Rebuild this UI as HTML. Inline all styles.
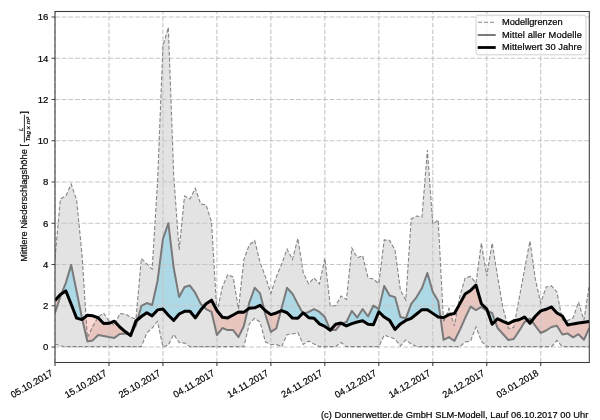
<!DOCTYPE html>
<html><head><meta charset="utf-8"><style>
html,body{margin:0;padding:0;background:#fff;width:600px;height:420px;overflow:hidden}
svg{display:block;font-family:"Liberation Sans", sans-serif;will-change:transform}
text{stroke:#000;stroke-width:0.2px}
</style></head><body>
<svg width="600" height="420" viewBox="0 0 600 420">
<defs>
<clipPath id="plot"><rect x="55.00" y="11.50" width="534.30" height="351.00"/></clipPath>
<clipPath id="above"><polygon points="55.00,300.59 60.40,294.41 65.79,290.90 71.19,304.31 76.59,318.12 81.98,319.57 87.38,315.24 92.78,315.86 98.18,317.71 103.57,323.49 108.97,323.28 114.37,321.22 119.76,326.99 125.16,331.53 130.56,335.66 135.95,321.01 141.35,316.48 146.75,312.76 152.15,315.86 157.54,309.88 162.94,309.05 168.34,315.24 173.73,320.39 179.13,314.00 184.53,311.32 189.93,311.32 195.32,317.92 200.72,310.08 206.12,303.69 211.51,300.18 216.91,310.49 222.31,317.30 227.70,317.92 233.10,315.03 238.50,311.94 243.90,312.14 249.29,308.23 254.69,307.81 260.09,305.34 265.48,310.70 270.88,314.62 276.28,312.97 281.67,310.70 287.07,312.76 292.47,318.12 297.87,318.33 303.26,312.76 308.66,317.71 314.06,318.33 319.45,323.90 324.85,326.38 330.25,330.29 335.64,324.31 341.04,323.07 346.44,325.96 351.84,323.69 357.23,322.04 362.63,320.81 368.03,324.31 373.42,324.73 378.82,311.73 384.22,317.09 389.61,320.39 395.01,329.47 400.41,323.90 405.81,320.39 411.20,318.33 416.60,314.00 422.00,309.67 427.39,309.67 432.79,313.38 438.19,317.09 443.58,317.51 448.98,314.62 454.38,313.59 459.78,303.89 465.17,293.99 470.57,290.49 475.97,285.12 481.36,303.69 486.76,309.05 492.16,324.31 497.55,318.74 502.95,321.43 508.35,323.69 513.75,320.81 519.14,319.77 524.54,317.09 529.94,323.28 535.33,316.27 540.73,310.91 546.13,309.26 551.52,306.99 556.92,312.97 562.32,316.06 567.72,324.93 573.11,323.90 578.51,323.07 583.91,322.25 589.30,321.43 589.30,0 55.00,0"/></clipPath>
<clipPath id="below"><polygon points="55.00,300.59 60.40,294.41 65.79,290.90 71.19,304.31 76.59,318.12 81.98,319.57 87.38,315.24 92.78,315.86 98.18,317.71 103.57,323.49 108.97,323.28 114.37,321.22 119.76,326.99 125.16,331.53 130.56,335.66 135.95,321.01 141.35,316.48 146.75,312.76 152.15,315.86 157.54,309.88 162.94,309.05 168.34,315.24 173.73,320.39 179.13,314.00 184.53,311.32 189.93,311.32 195.32,317.92 200.72,310.08 206.12,303.69 211.51,300.18 216.91,310.49 222.31,317.30 227.70,317.92 233.10,315.03 238.50,311.94 243.90,312.14 249.29,308.23 254.69,307.81 260.09,305.34 265.48,310.70 270.88,314.62 276.28,312.97 281.67,310.70 287.07,312.76 292.47,318.12 297.87,318.33 303.26,312.76 308.66,317.71 314.06,318.33 319.45,323.90 324.85,326.38 330.25,330.29 335.64,324.31 341.04,323.07 346.44,325.96 351.84,323.69 357.23,322.04 362.63,320.81 368.03,324.31 373.42,324.73 378.82,311.73 384.22,317.09 389.61,320.39 395.01,329.47 400.41,323.90 405.81,320.39 411.20,318.33 416.60,314.00 422.00,309.67 427.39,309.67 432.79,313.38 438.19,317.09 443.58,317.51 448.98,314.62 454.38,313.59 459.78,303.89 465.17,293.99 470.57,290.49 475.97,285.12 481.36,303.69 486.76,309.05 492.16,324.31 497.55,318.74 502.95,321.43 508.35,323.69 513.75,320.81 519.14,319.77 524.54,317.09 529.94,323.28 535.33,316.27 540.73,310.91 546.13,309.26 551.52,306.99 556.92,312.97 562.32,316.06 567.72,324.93 573.11,323.90 578.51,323.07 583.91,322.25 589.30,321.43 589.30,420 55.00,420"/></clipPath>
</defs>
<polygon points="55.00,258.31 60.40,198.91 65.79,196.03 71.19,184.06 76.59,199.94 81.98,254.19 87.38,337.72 92.78,326.38 98.18,317.09 103.57,312.97 108.97,321.01 114.37,325.34 119.76,313.59 125.16,314.00 130.56,317.09 135.95,319.16 141.35,258.52 146.75,263.88 152.15,269.04 157.54,182.00 162.94,45.88 168.34,27.31 173.73,175.81 179.13,250.06 184.53,196.03 189.93,198.91 195.32,188.39 200.72,204.07 206.12,204.89 211.51,222.01 216.91,312.97 222.31,287.19 227.70,274.81 233.10,276.88 238.50,308.84 243.90,259.34 249.29,244.91 254.69,240.57 260.09,262.44 265.48,276.88 270.88,293.38 276.28,276.88 281.67,264.09 287.07,249.03 292.47,259.55 297.87,238.31 303.26,272.75 308.66,283.89 314.06,277.91 319.45,283.89 324.85,258.31 330.25,305.75 335.64,305.75 341.04,296.06 346.44,299.56 351.84,248.00 357.23,257.90 362.63,255.63 368.03,277.91 373.42,278.94 378.82,283.89 384.22,239.96 389.61,240.37 395.01,250.06 400.41,290.07 405.81,299.98 411.20,218.92 416.60,216.03 422.00,217.06 427.39,150.03 432.79,224.07 438.19,219.95 443.58,322.25 448.98,308.43 454.38,325.96 459.78,296.47 465.17,277.91 470.57,276.46 475.97,283.06 481.36,243.05 486.76,276.05 492.16,243.05 497.55,276.26 502.95,307.81 508.35,328.44 513.75,327.41 519.14,298.32 524.54,269.66 529.94,240.99 535.33,278.94 540.73,303.07 546.13,286.98 551.52,285.95 556.92,291.93 562.32,319.98 567.72,320.60 573.11,317.92 578.51,302.04 583.91,319.98 589.30,285.95 589.30,346.59 583.91,346.59 578.51,346.59 573.11,346.59 567.72,346.59 562.32,346.59 556.92,340.40 551.52,346.59 546.13,346.59 540.73,346.59 535.33,346.59 529.94,346.59 524.54,346.59 519.14,346.59 513.75,346.59 508.35,346.59 502.95,346.59 497.55,346.59 492.16,346.59 486.76,346.59 481.36,341.02 475.97,326.99 470.57,341.02 465.17,342.05 459.78,346.59 454.38,346.59 448.98,346.59 443.58,346.59 438.19,346.59 432.79,346.59 427.39,346.59 422.00,346.59 416.60,346.59 411.20,343.91 405.81,339.99 400.41,345.97 395.01,338.96 389.61,337.10 384.22,335.04 378.82,346.59 373.42,346.59 368.03,346.59 362.63,346.59 357.23,346.59 351.84,346.59 346.44,346.59 341.04,342.46 335.64,346.59 330.25,346.59 324.85,346.59 319.45,346.59 314.06,343.91 308.66,341.02 303.26,344.52 297.87,332.56 292.47,334.01 287.07,334.42 281.67,346.59 276.28,344.52 270.88,344.52 265.48,342.05 260.09,322.04 254.69,318.33 249.29,323.90 243.90,346.59 238.50,346.59 233.10,346.59 227.70,346.59 222.31,346.59 216.91,346.59 211.51,346.59 206.12,346.59 200.72,346.59 195.32,346.59 189.93,346.59 184.53,343.08 179.13,342.46 173.73,334.42 168.34,344.94 162.94,347.00 157.54,321.43 152.15,328.02 146.75,332.98 141.35,346.59 135.95,346.59 130.56,346.59 125.16,346.59 119.76,346.59 114.37,346.59 108.97,346.59 103.57,346.59 98.18,346.59 92.78,346.59 87.38,346.59 81.98,346.59 76.59,346.59 71.19,346.59 65.79,346.59 60.40,345.97 55.00,343.91" fill="#e3e3e3"/>
<g clip-path="url(#plot)">
<polygon points="55.00,312.97 60.40,296.47 65.79,283.06 71.19,264.91 76.59,291.31 81.98,317.92 87.38,341.43 92.78,340.40 98.18,335.04 103.57,336.07 108.97,337.10 114.37,337.93 119.76,334.01 125.16,333.59 130.56,334.62 135.95,325.34 141.35,305.96 146.75,303.07 152.15,304.93 157.54,281.00 162.94,238.93 168.34,223.25 173.73,268.01 179.13,297.09 184.53,286.98 189.93,285.54 195.32,292.96 200.72,303.89 206.12,309.05 211.51,311.94 216.91,335.04 222.31,328.02 227.70,330.09 233.10,330.09 238.50,337.10 243.90,325.96 249.29,302.66 254.69,287.81 260.09,293.38 265.48,315.03 270.88,331.94 276.28,328.44 281.67,307.81 287.07,287.81 292.47,293.79 297.87,304.10 303.26,314.00 308.66,311.94 314.06,309.05 319.45,311.94 324.85,317.09 330.25,330.09 335.64,330.09 341.04,323.90 346.44,322.04 351.84,310.91 357.23,317.51 362.63,309.05 368.03,316.48 373.42,305.54 378.82,309.05 384.22,285.95 389.61,295.44 395.01,297.09 400.41,317.09 405.81,318.33 411.20,303.89 416.60,297.09 422.00,288.01 427.39,272.96 432.79,291.93 438.19,301.01 443.58,339.78 448.98,337.10 454.38,341.02 459.78,330.09 465.17,317.92 470.57,306.57 475.97,310.08 481.36,306.99 486.76,310.91 492.16,312.97 497.55,328.02 502.95,334.01 508.35,339.99 513.75,338.96 519.14,330.91 524.54,322.04 529.94,318.54 535.33,325.96 540.73,332.98 546.13,330.50 551.52,326.99 556.92,325.76 562.32,334.42 567.72,333.59 573.11,337.31 578.51,334.21 583.91,339.78 589.30,328.02 589.30,321.43 583.91,322.25 578.51,323.07 573.11,323.90 567.72,324.93 562.32,316.06 556.92,312.97 551.52,306.99 546.13,309.26 540.73,310.91 535.33,316.27 529.94,323.28 524.54,317.09 519.14,319.77 513.75,320.81 508.35,323.69 502.95,321.43 497.55,318.74 492.16,324.31 486.76,309.05 481.36,303.69 475.97,285.12 470.57,290.49 465.17,293.99 459.78,303.89 454.38,313.59 448.98,314.62 443.58,317.51 438.19,317.09 432.79,313.38 427.39,309.67 422.00,309.67 416.60,314.00 411.20,318.33 405.81,320.39 400.41,323.90 395.01,329.47 389.61,320.39 384.22,317.09 378.82,311.73 373.42,324.73 368.03,324.31 362.63,320.81 357.23,322.04 351.84,323.69 346.44,325.96 341.04,323.07 335.64,324.31 330.25,330.29 324.85,326.38 319.45,323.90 314.06,318.33 308.66,317.71 303.26,312.76 297.87,318.33 292.47,318.12 287.07,312.76 281.67,310.70 276.28,312.97 270.88,314.62 265.48,310.70 260.09,305.34 254.69,307.81 249.29,308.23 243.90,312.14 238.50,311.94 233.10,315.03 227.70,317.92 222.31,317.30 216.91,310.49 211.51,300.18 206.12,303.69 200.72,310.08 195.32,317.92 189.93,311.32 184.53,311.32 179.13,314.00 173.73,320.39 168.34,315.24 162.94,309.05 157.54,309.88 152.15,315.86 146.75,312.76 141.35,316.48 135.95,321.01 130.56,335.66 125.16,331.53 119.76,326.99 114.37,321.22 108.97,323.28 103.57,323.49 98.18,317.71 92.78,315.86 87.38,315.24 81.98,319.57 76.59,318.12 71.19,304.31 65.79,290.90 60.40,294.41 55.00,300.59" fill="#add8e6" clip-path="url(#above)" fill-rule="evenodd"/>
<polygon points="55.00,312.97 60.40,296.47 65.79,283.06 71.19,264.91 76.59,291.31 81.98,317.92 87.38,341.43 92.78,340.40 98.18,335.04 103.57,336.07 108.97,337.10 114.37,337.93 119.76,334.01 125.16,333.59 130.56,334.62 135.95,325.34 141.35,305.96 146.75,303.07 152.15,304.93 157.54,281.00 162.94,238.93 168.34,223.25 173.73,268.01 179.13,297.09 184.53,286.98 189.93,285.54 195.32,292.96 200.72,303.89 206.12,309.05 211.51,311.94 216.91,335.04 222.31,328.02 227.70,330.09 233.10,330.09 238.50,337.10 243.90,325.96 249.29,302.66 254.69,287.81 260.09,293.38 265.48,315.03 270.88,331.94 276.28,328.44 281.67,307.81 287.07,287.81 292.47,293.79 297.87,304.10 303.26,314.00 308.66,311.94 314.06,309.05 319.45,311.94 324.85,317.09 330.25,330.09 335.64,330.09 341.04,323.90 346.44,322.04 351.84,310.91 357.23,317.51 362.63,309.05 368.03,316.48 373.42,305.54 378.82,309.05 384.22,285.95 389.61,295.44 395.01,297.09 400.41,317.09 405.81,318.33 411.20,303.89 416.60,297.09 422.00,288.01 427.39,272.96 432.79,291.93 438.19,301.01 443.58,339.78 448.98,337.10 454.38,341.02 459.78,330.09 465.17,317.92 470.57,306.57 475.97,310.08 481.36,306.99 486.76,310.91 492.16,312.97 497.55,328.02 502.95,334.01 508.35,339.99 513.75,338.96 519.14,330.91 524.54,322.04 529.94,318.54 535.33,325.96 540.73,332.98 546.13,330.50 551.52,326.99 556.92,325.76 562.32,334.42 567.72,333.59 573.11,337.31 578.51,334.21 583.91,339.78 589.30,328.02 589.30,321.43 583.91,322.25 578.51,323.07 573.11,323.90 567.72,324.93 562.32,316.06 556.92,312.97 551.52,306.99 546.13,309.26 540.73,310.91 535.33,316.27 529.94,323.28 524.54,317.09 519.14,319.77 513.75,320.81 508.35,323.69 502.95,321.43 497.55,318.74 492.16,324.31 486.76,309.05 481.36,303.69 475.97,285.12 470.57,290.49 465.17,293.99 459.78,303.89 454.38,313.59 448.98,314.62 443.58,317.51 438.19,317.09 432.79,313.38 427.39,309.67 422.00,309.67 416.60,314.00 411.20,318.33 405.81,320.39 400.41,323.90 395.01,329.47 389.61,320.39 384.22,317.09 378.82,311.73 373.42,324.73 368.03,324.31 362.63,320.81 357.23,322.04 351.84,323.69 346.44,325.96 341.04,323.07 335.64,324.31 330.25,330.29 324.85,326.38 319.45,323.90 314.06,318.33 308.66,317.71 303.26,312.76 297.87,318.33 292.47,318.12 287.07,312.76 281.67,310.70 276.28,312.97 270.88,314.62 265.48,310.70 260.09,305.34 254.69,307.81 249.29,308.23 243.90,312.14 238.50,311.94 233.10,315.03 227.70,317.92 222.31,317.30 216.91,310.49 211.51,300.18 206.12,303.69 200.72,310.08 195.32,317.92 189.93,311.32 184.53,311.32 179.13,314.00 173.73,320.39 168.34,315.24 162.94,309.05 157.54,309.88 152.15,315.86 146.75,312.76 141.35,316.48 135.95,321.01 130.56,335.66 125.16,331.53 119.76,326.99 114.37,321.22 108.97,323.28 103.57,323.49 98.18,317.71 92.78,315.86 87.38,315.24 81.98,319.57 76.59,318.12 71.19,304.31 65.79,290.90 60.40,294.41 55.00,300.59" fill="#fa8072" fill-opacity="0.3" clip-path="url(#below)" fill-rule="evenodd"/>
</g>
<path d="M55.00 347.00H589.30 M55.00 305.75H589.30 M55.00 264.50H589.30 M55.00 223.25H589.30 M55.00 182.00H589.30 M55.00 140.75H589.30 M55.00 99.50H589.30 M55.00 58.25H589.30 M55.00 17.00H589.30" stroke="#c6c6c6" stroke-width="1.1" stroke-dasharray="4.8 1.9" fill="none"/>
<path d="M55.00 362.50V11.50 M108.97 362.50V11.50 M162.94 362.50V11.50 M216.91 362.50V11.50 M270.88 362.50V11.50 M324.85 362.50V11.50 M378.82 362.50V11.50 M432.79 362.50V11.50 M486.76 362.50V11.50 M540.73 362.50V11.50" stroke="#c6c6c6" stroke-width="1.1" stroke-dasharray="4.8 1.9" fill="none"/>
<g clip-path="url(#plot)">
<polyline points="55.00,258.31 60.40,198.91 65.79,196.03 71.19,184.06 76.59,199.94 81.98,254.19 87.38,337.72 92.78,326.38 98.18,317.09 103.57,312.97 108.97,321.01 114.37,325.34 119.76,313.59 125.16,314.00 130.56,317.09 135.95,319.16 141.35,258.52 146.75,263.88 152.15,269.04 157.54,182.00 162.94,45.88 168.34,27.31 173.73,175.81 179.13,250.06 184.53,196.03 189.93,198.91 195.32,188.39 200.72,204.07 206.12,204.89 211.51,222.01 216.91,312.97 222.31,287.19 227.70,274.81 233.10,276.88 238.50,308.84 243.90,259.34 249.29,244.91 254.69,240.57 260.09,262.44 265.48,276.88 270.88,293.38 276.28,276.88 281.67,264.09 287.07,249.03 292.47,259.55 297.87,238.31 303.26,272.75 308.66,283.89 314.06,277.91 319.45,283.89 324.85,258.31 330.25,305.75 335.64,305.75 341.04,296.06 346.44,299.56 351.84,248.00 357.23,257.90 362.63,255.63 368.03,277.91 373.42,278.94 378.82,283.89 384.22,239.96 389.61,240.37 395.01,250.06 400.41,290.07 405.81,299.98 411.20,218.92 416.60,216.03 422.00,217.06 427.39,150.03 432.79,224.07 438.19,219.95 443.58,322.25 448.98,308.43 454.38,325.96 459.78,296.47 465.17,277.91 470.57,276.46 475.97,283.06 481.36,243.05 486.76,276.05 492.16,243.05 497.55,276.26 502.95,307.81 508.35,328.44 513.75,327.41 519.14,298.32 524.54,269.66 529.94,240.99 535.33,278.94 540.73,303.07 546.13,286.98 551.52,285.95 556.92,291.93 562.32,319.98 567.72,320.60 573.11,317.92 578.51,302.04 583.91,319.98 589.30,285.95" fill="none" stroke="#858585" stroke-width="1.1" stroke-dasharray="4 2"/>
<polyline points="55.00,343.91 60.40,345.97 65.79,346.59 71.19,346.59 76.59,346.59 81.98,346.59 87.38,346.59 92.78,346.59 98.18,346.59 103.57,346.59 108.97,346.59 114.37,346.59 119.76,346.59 125.16,346.59 130.56,346.59 135.95,346.59 141.35,346.59 146.75,332.98 152.15,328.02 157.54,321.43 162.94,347.00 168.34,344.94 173.73,334.42 179.13,342.46 184.53,343.08 189.93,346.59 195.32,346.59 200.72,346.59 206.12,346.59 211.51,346.59 216.91,346.59 222.31,346.59 227.70,346.59 233.10,346.59 238.50,346.59 243.90,346.59 249.29,323.90 254.69,318.33 260.09,322.04 265.48,342.05 270.88,344.52 276.28,344.52 281.67,346.59 287.07,334.42 292.47,334.01 297.87,332.56 303.26,344.52 308.66,341.02 314.06,343.91 319.45,346.59 324.85,346.59 330.25,346.59 335.64,346.59 341.04,342.46 346.44,346.59 351.84,346.59 357.23,346.59 362.63,346.59 368.03,346.59 373.42,346.59 378.82,346.59 384.22,335.04 389.61,337.10 395.01,338.96 400.41,345.97 405.81,339.99 411.20,343.91 416.60,346.59 422.00,346.59 427.39,346.59 432.79,346.59 438.19,346.59 443.58,346.59 448.98,346.59 454.38,346.59 459.78,346.59 465.17,342.05 470.57,341.02 475.97,326.99 481.36,341.02 486.76,346.59 492.16,346.59 497.55,346.59 502.95,346.59 508.35,346.59 513.75,346.59 519.14,346.59 524.54,346.59 529.94,346.59 535.33,346.59 540.73,346.59 546.13,346.59 551.52,346.59 556.92,340.40 562.32,346.59 567.72,346.59 573.11,346.59 578.51,346.59 583.91,346.59 589.30,346.59" fill="none" stroke="#858585" stroke-width="1.1" stroke-dasharray="4 2"/>
<polyline points="55.00,312.97 60.40,296.47 65.79,283.06 71.19,264.91 76.59,291.31 81.98,317.92 87.38,341.43 92.78,340.40 98.18,335.04 103.57,336.07 108.97,337.10 114.37,337.93 119.76,334.01 125.16,333.59 130.56,334.62 135.95,325.34 141.35,305.96 146.75,303.07 152.15,304.93 157.54,281.00 162.94,238.93 168.34,223.25 173.73,268.01 179.13,297.09 184.53,286.98 189.93,285.54 195.32,292.96 200.72,303.89 206.12,309.05 211.51,311.94 216.91,335.04 222.31,328.02 227.70,330.09 233.10,330.09 238.50,337.10 243.90,325.96 249.29,302.66 254.69,287.81 260.09,293.38 265.48,315.03 270.88,331.94 276.28,328.44 281.67,307.81 287.07,287.81 292.47,293.79 297.87,304.10 303.26,314.00 308.66,311.94 314.06,309.05 319.45,311.94 324.85,317.09 330.25,330.09 335.64,330.09 341.04,323.90 346.44,322.04 351.84,310.91 357.23,317.51 362.63,309.05 368.03,316.48 373.42,305.54 378.82,309.05 384.22,285.95 389.61,295.44 395.01,297.09 400.41,317.09 405.81,318.33 411.20,303.89 416.60,297.09 422.00,288.01 427.39,272.96 432.79,291.93 438.19,301.01 443.58,339.78 448.98,337.10 454.38,341.02 459.78,330.09 465.17,317.92 470.57,306.57 475.97,310.08 481.36,306.99 486.76,310.91 492.16,312.97 497.55,328.02 502.95,334.01 508.35,339.99 513.75,338.96 519.14,330.91 524.54,322.04 529.94,318.54 535.33,325.96 540.73,332.98 546.13,330.50 551.52,326.99 556.92,325.76 562.32,334.42 567.72,333.59 573.11,337.31 578.51,334.21 583.91,339.78 589.30,328.02" fill="none" stroke="#7a7a7a" stroke-width="2" stroke-linejoin="round"/>
<polyline points="55.00,300.59 60.40,294.41 65.79,290.90 71.19,304.31 76.59,318.12 81.98,319.57 87.38,315.24 92.78,315.86 98.18,317.71 103.57,323.49 108.97,323.28 114.37,321.22 119.76,326.99 125.16,331.53 130.56,335.66 135.95,321.01 141.35,316.48 146.75,312.76 152.15,315.86 157.54,309.88 162.94,309.05 168.34,315.24 173.73,320.39 179.13,314.00 184.53,311.32 189.93,311.32 195.32,317.92 200.72,310.08 206.12,303.69 211.51,300.18 216.91,310.49 222.31,317.30 227.70,317.92 233.10,315.03 238.50,311.94 243.90,312.14 249.29,308.23 254.69,307.81 260.09,305.34 265.48,310.70 270.88,314.62 276.28,312.97 281.67,310.70 287.07,312.76 292.47,318.12 297.87,318.33 303.26,312.76 308.66,317.71 314.06,318.33 319.45,323.90 324.85,326.38 330.25,330.29 335.64,324.31 341.04,323.07 346.44,325.96 351.84,323.69 357.23,322.04 362.63,320.81 368.03,324.31 373.42,324.73 378.82,311.73 384.22,317.09 389.61,320.39 395.01,329.47 400.41,323.90 405.81,320.39 411.20,318.33 416.60,314.00 422.00,309.67 427.39,309.67 432.79,313.38 438.19,317.09 443.58,317.51 448.98,314.62 454.38,313.59 459.78,303.89 465.17,293.99 470.57,290.49 475.97,285.12 481.36,303.69 486.76,309.05 492.16,324.31 497.55,318.74 502.95,321.43 508.35,323.69 513.75,320.81 519.14,319.77 524.54,317.09 529.94,323.28 535.33,316.27 540.73,310.91 546.13,309.26 551.52,306.99 556.92,312.97 562.32,316.06 567.72,324.93 573.11,323.90 578.51,323.07 583.91,322.25 589.30,321.43" fill="none" stroke="#000" stroke-width="3" stroke-linejoin="round"/>
</g>
<rect x="55.00" y="11.50" width="534.30" height="351.00" fill="none" stroke="#3a3a3a" stroke-width="1.05"/>
<path d="M51.50 347.00H55.00 M51.50 305.75H55.00 M51.50 264.50H55.00 M51.50 223.25H55.00 M51.50 182.00H55.00 M51.50 140.75H55.00 M51.50 99.50H55.00 M51.50 58.25H55.00 M51.50 17.00H55.00 M55.00 362.50V366.00 M108.97 362.50V366.00 M162.94 362.50V366.00 M216.91 362.50V366.00 M270.88 362.50V366.00 M324.85 362.50V366.00 M378.82 362.50V366.00 M432.79 362.50V366.00 M486.76 362.50V366.00 M540.73 362.50V366.00" stroke="#404040" stroke-width="1.1" fill="none"/>
<text x="48.3" y="350.30" text-anchor="end" font-size="9.6" fill="#000">0</text>
<text x="48.3" y="309.05" text-anchor="end" font-size="9.6" fill="#000">2</text>
<text x="48.3" y="267.80" text-anchor="end" font-size="9.6" fill="#000">4</text>
<text x="48.3" y="226.55" text-anchor="end" font-size="9.6" fill="#000">6</text>
<text x="48.3" y="185.30" text-anchor="end" font-size="9.6" fill="#000">8</text>
<text x="48.3" y="144.05" text-anchor="end" font-size="9.6" fill="#000">10</text>
<text x="48.3" y="102.80" text-anchor="end" font-size="9.6" fill="#000">12</text>
<text x="48.3" y="61.55" text-anchor="end" font-size="9.6" fill="#000">14</text>
<text x="48.3" y="20.30" text-anchor="end" font-size="9.6" fill="#000">16</text>
<text transform="translate(53.40,375.0) rotate(-30)" text-anchor="end" font-size="9.3" fill="#000">05.10.2017</text>
<text transform="translate(107.37,375.0) rotate(-30)" text-anchor="end" font-size="9.3" fill="#000">15.10.2017</text>
<text transform="translate(161.34,375.0) rotate(-30)" text-anchor="end" font-size="9.3" fill="#000">25.10.2017</text>
<text transform="translate(215.31,375.0) rotate(-30)" text-anchor="end" font-size="9.3" fill="#000">04.11.2017</text>
<text transform="translate(269.28,375.0) rotate(-30)" text-anchor="end" font-size="9.3" fill="#000">14.11.2017</text>
<text transform="translate(323.25,375.0) rotate(-30)" text-anchor="end" font-size="9.3" fill="#000">24.11.2017</text>
<text transform="translate(377.22,375.0) rotate(-30)" text-anchor="end" font-size="9.3" fill="#000">04.12.2017</text>
<text transform="translate(431.19,375.0) rotate(-30)" text-anchor="end" font-size="9.3" fill="#000">14.12.2017</text>
<text transform="translate(485.16,375.0) rotate(-30)" text-anchor="end" font-size="9.3" fill="#000">24.12.2017</text>
<text transform="translate(539.13,375.0) rotate(-30)" text-anchor="end" font-size="9.3" fill="#000">03.01.2018</text>
<g transform="translate(27,261) rotate(-90)">
<text x="-0.8" y="0" font-size="9.3" fill="#000">Mittlere Niederschlagshöhe [</text>
</g>
<g transform="translate(24.4,128.6) rotate(-90)">
<line x1="-14" y1="0" x2="14" y2="0" stroke="#000" stroke-width="0.8"/>
<text x="-0.8" y="-1.3" text-anchor="middle" font-size="5.8" font-style="italic" fill="#000">L</text>
<text x="-0.6" y="5.3" text-anchor="middle" font-size="6" font-style="italic" fill="#000" textLength="24.5" lengthAdjust="spacingAndGlyphs">Tag x m²</text>
</g>
<g transform="translate(27,113.8) rotate(-90)">
<text x="0" y="0" font-size="9.3" fill="#000">]</text>
</g>
<rect x="476" y="15.2" width="110" height="39.6" rx="2" fill="#fff" fill-opacity="0.8" stroke="#d0d0d0" stroke-width="1"/>
<line x1="478" y1="22.3" x2="495.5" y2="22.3" stroke="#858585" stroke-width="1.1" stroke-dasharray="4 2"/>
<line x1="477.7" y1="35" x2="495.7" y2="35" stroke="#7a7a7a" stroke-width="2"/>
<line x1="477.7" y1="47.5" x2="495.7" y2="47.5" stroke="#000" stroke-width="2.8"/>
<text x="502" y="24.80" font-size="9.3" fill="#000" textLength="60.6" lengthAdjust="spacing">Modellgrenzen</text>
<text x="502" y="37.60" font-size="9.3" fill="#000" textLength="79.8" lengthAdjust="spacing">Mittel aller Modelle</text>
<text x="502" y="50.40" font-size="9.3" fill="#000" textLength="79.8" lengthAdjust="spacing">Mittelwert 30 Jahre</text>
<text x="588.3" y="417.8" text-anchor="end" font-size="9.3" fill="#000" textLength="267.3" lengthAdjust="spacing">(c) Donnerwetter.de GmbH SLM-Modell, Lauf 06.10.2017 00 Uhr</text>
</svg>
</body></html>
